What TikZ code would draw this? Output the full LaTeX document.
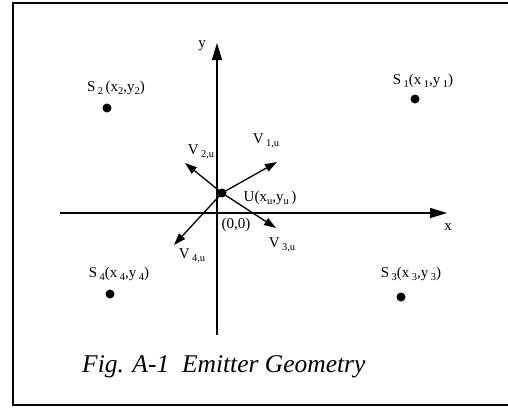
\documentclass[tikz,border=0pt]{standalone}
\usepackage{fontspec}
\setmainfont{Liberation Serif}
\usetikzlibrary{arrows.meta}
\newcommand{\sbs}[1]{\raisebox{-0.35ex}{\fontsize{10.5}{10.5}\selectfont #1}}
\tikzset{
  lbl/.style={inner sep=0pt, font=\fontsize{15}{17}\selectfont},
  dotn/.style={circle, fill=black, inner sep=0pt, minimum size=9pt},
  axis/.style={line width=1.4pt, -{Triangle[length=17pt,width=10pt]}},
  vec/.style={line width=1.3pt, -{Triangle[length=12pt,width=8pt]}},
  frame/.style={line width=2.5pt}
}
\begin{document}
\begin{tikzpicture}[x=1pt,y=-1pt]
\useasboundingbox (0,0) rectangle (508,408);
\draw[frame] (512,3) -- (13,3) -- (13,405) -- (512,405);
% axes
\coordinate (O) at (217,213);
\coordinate (xl) at (60,213);
\coordinate (xr) at (447,213);
\coordinate (yb) at (217,335);
\coordinate (yt) at (217,43);
\draw[axis] (xl) -- (xr);
\draw[axis] (yb) -- (yt);
\node[lbl] (ylab) at (202,46) {y};
\node[lbl] (xlab) at (448,227) {x};
\node[lbl] (olab) at (236,225) {(0,0)};
% emitters
\node[dotn] (s1) at (415,99) {};
\node[dotn] (s2) at (107,108) {};
\node[dotn] (s3) at (401,297) {};
\node[dotn] (s4) at (110,294) {};
\node[lbl] (s1l) at (423,81) {S\,\sbs{1}(x\,\sbs{1},y\,\sbs{1})};
\node[lbl] (s2l) at (116,88) {S\,\sbs{2}\,(x\sbs{2},y\sbs{2})};
\node[lbl] (s3l) at (411,274) {S\,\sbs{3}(x\,\sbs{3},y\,\sbs{3})};
\node[lbl] (s4l) at (119,274) {S\,\sbs{4}(x\,\sbs{4},y\,\sbs{4})};
% user
\node[dotn] (u) at (222,193) {};
\node[lbl] (ul) at (270,198) {U(x\sbs{u},y\sbs{u}\,)};
\coordinate (v1) at (277,162);
\coordinate (v2) at (185,163);
\coordinate (v3) at (276,228);
\coordinate (v4) at (174,245);
\draw[vec] (u.center) -- (v1);
\draw[vec] (u.center) -- (v2);
\draw[vec] (u.center) -- (v3);
\draw[vec] (u.center) -- (v4);
\node[lbl] (v1l) at (266,141) {V\,\sbs{1,u}};
\node[lbl] (v2l) at (201,152) {V\,\sbs{2,u}};
\node[lbl] (v3l) at (282,245) {V\,\sbs{3,u}};
\node[lbl] (v4l) at (192,256) {V\,\sbs{4,u}};
% caption
\node[inner sep=0pt, anchor=base west, font=\fontsize{25.5}{28}\selectfont\itshape] (cap) at (82,372) {Fig. A-1\ \ Emitter Geometry};
\end{tikzpicture}
\end{document}
